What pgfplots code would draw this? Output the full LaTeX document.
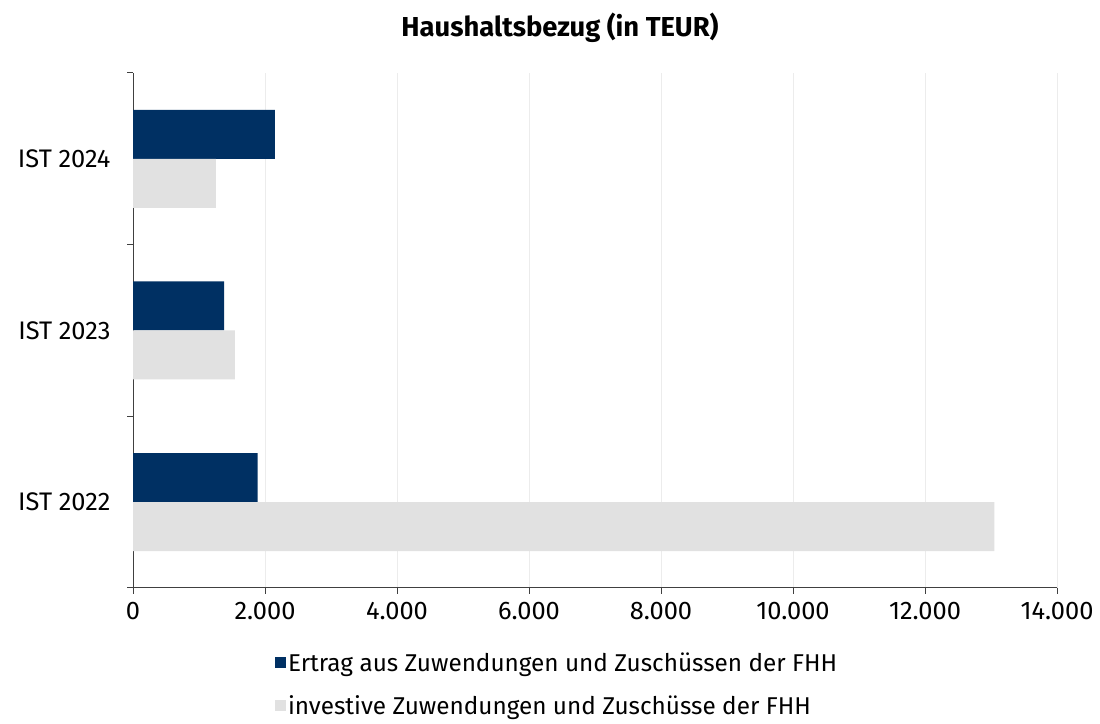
\documentclass[border=0pt]{standalone}
\usepackage{fontspec}
\setmainfont{Fira Sans}
\usepackage{pgfplots}
\pgfplotsset{compat=1.18}
\definecolor{navy}{RGB}{0,48,99}
\definecolor{lgray}{RGB}{225,225,225}
\definecolor{gridc}{RGB}{236,236,236}
\begin{document}
\begin{tikzpicture}[x=1bp,y=1bp]
\path[use as bounding box] (0,0) rectangle (1100,724);
\node[font=\bfseries\fontsize{27.5}{32}\selectfont] at (560,696) {Haushaltsbezug (in TEUR)};
\begin{axis}[
 at={(133bp,136bp)}, anchor=south west,
 scale only axis, width=924bp, height=515bp,
 xbar, bar width=49bp,
 xmin=0, xmax=14000, ymin=-0.5, ymax=2.5,
 axis x line*=bottom, axis y line*=left,
 axis line style={black!75, line width=1pt},
 tick align=outside,
 major tick length=6bp, minor tick length=6bp,
 tick style={black!75, line width=1pt},
 major y tick style={draw=none},
 xtick={0,2000,...,14000},
 scaled x ticks=false,
 /pgf/number format/1000 sep={.},
 /pgf/number format/fixed,
 /pgf/number format/assume math mode=true,
 ytick={0,1,2},
 yticklabels={IST 2022,IST 2023,IST 2024},
 minor ytick={-0.5,0.5,1.5,2.5},
 xmajorgrids=true,
 major grid style={gridc, line width=1pt},
 ticklabel style={font=\fontsize{25.5}{30}\selectfont},
 yticklabel style={xshift=-13bp},
 xticklabel style={yshift=-5bp},
 legend style={at={(0.459,-0.117)}, anchor=north, draw=none, fill=none,
   font=\fontsize{24.4}{29}\selectfont, row sep=19bp,
   /tikz/every even column/.append style={column sep=0bp}},
 legend cell align=left,
]
\addplot[fill=navy, draw=none, bar shift=24.5bp,
  legend image code/.code={\fill[navy] (-3bp,-5.5bp) rectangle (8bp,5.5bp);}]
  coordinates {(1888,0) (1382,1) (2150,2)};
\addplot[fill=lgray, draw=none, bar shift=-24.5bp,
  legend image code/.code={\fill[lgray] (-3bp,-5.5bp) rectangle (8bp,5.5bp);}]
  coordinates {(13051,0) (1544,1) (1257,2)};
\legend{Ertrag aus Zuwendungen und Zuschüssen der FHH, investive Zuwendungen und Zuschüsse der FHH}
\end{axis}
\end{tikzpicture}
\end{document}
